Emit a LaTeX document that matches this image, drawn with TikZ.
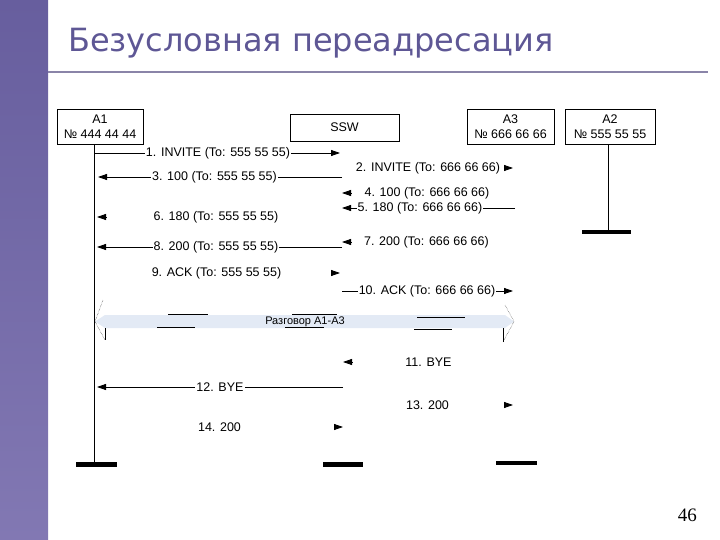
\documentclass[tikz,border=0pt]{standalone}
\usepackage{fontspec}
\setmainfont{Liberation Sans}
\newfontfamily\titlefont{DejaVu Sans}
\newfontfamily\numfont{Liberation Serif}
\usetikzlibrary{arrows.meta}

\definecolor{sidebar}{HTML}{675E9E}
\definecolor{sidebarlow}{HTML}{8278B3}
\definecolor{titlecol}{HTML}{5E5795}
\definecolor{rulecol}{HTML}{8A84A8}
\definecolor{talkband}{HTML}{E3EAF5}

\tikzset{
  party/.style={draw, line width=0.8pt, align=center, inner sep=1pt,
    font=\fontsize{12.5}{15}\selectfont},
  msg/.style={inner sep=1pt, font=\fontsize{12.5}{14}\selectfont},
  msgline/.style={line width=0.8pt, -{Triangle[length=9pt,width=6pt]}},
  endbar/.style={line width=4.5pt},
}

\begin{document}
\begin{tikzpicture}[x=1pt, y=-1pt]
    \useasboundingbox (0,0) rectangle (720,540);

    % Slide frame
    \shade[top color=sidebar, bottom color=sidebarlow] (0,0) rectangle (48,540);
    \node[anchor=base west, inner sep=0, text=titlecol,
          font=\titlefont\fontsize{32}{36}\selectfont] (title) at (68,52) {Безусловная переадресация};
    \draw[rulecol, line width=2pt] (48,72) -- (708,72);
    \node[anchor=base east, inner sep=0, font=\numfont\fontsize{19}{20}\selectfont] (pagenum) at (697,521) {46};

    % Parties
    \node[party, minimum width=86pt, minimum height=35pt] (a1) at (100,126.5) {A1\\№ 444 44 44};
    \node[party, minimum width=109pt, minimum height=27pt] (ssw) at (344.5,127.5) {SSW};
    \node[party, minimum width=87pt, minimum height=35pt] (a3) at (510.5,126.5) {A3\\№ 666 66 66};
    \node[party, minimum width=90pt, minimum height=35pt] (a2) at (610,126.5) {A2\\№ 555 55 55};

    % Lifelines and their ends
    \coordinate (a1foot) at (94,464.5);
    \coordinate (a2foot) at (608,232);
    \draw[line width=0.8pt] (a1.south -| a1foot) -- (a1foot);
    \draw[line width=0.8pt] (a2.south -| a2foot) -- (a2foot);
    \draw[endbar] (76,464.5) -- (117,464.5);
    \draw[endbar] (323,464.5) -- (363,464.5);
    \draw[endbar] (496,463) -- (537,463);
    \draw[endbar] (582,232) -- (631,232);

    % Messages drawn with a line
    \foreach \xs/\xe/\y/\xl/\txt in {
        95/340/153/218/{1. INVITE (To: 555 55 55)},
        342/98/177/214.5/{3. 100 (To: 555 55 55)},
        515/342/208/420/{5. 180 (To: 666 66 66)},
        342/97/247/216/{8. 200 (To: 555 55 55)},
        342/513/291/427/{10. ACK (To: 666 66 66)},
        343/97/387/220/{12. BYE}} {
        \draw[msgline] (\xs,\y) -- (\xe,\y);
        \node[msg, fill=white] at (\xl,\y) {\txt};
    }

    % Messages with only the arrow tip
    \foreach \xt/\d/\y/\xl/\txt in {
        513/-9/168/428/{2. INVITE (To: 666 66 66)},
        342/9/193/427/{4. 100 (To: 666 66 66)},
        97/9/217/216/{6. 180 (To: 555 55 55)},
        342/9/242/426.5/{7. 200 (To: 666 66 66)},
        340/-9/273/216.5/{9. ACK (To: 555 55 55)},
        343/9/362/428.5/{11. BYE},
        513/-9/405/427.5/{13. 200},
        343/-9/427/219.5/{14. 200}} {
        \draw[msgline] (\xt+\d,\y) -- (\xt,\y);
        \node[msg] at (\xl,\y) {\txt};
    }

    % Conversation A1-A3
    \fill[talkband] (95,321.5) -- (105,315) -- (505,315) -- (514,321.5) -- (505,328) -- (105,328) -- cycle;
    \draw[densely dotted] (103,300) -- (95,321.5) -- (105,340);
    \draw[densely dotted] (505,305) -- (514,321.5) -- (503,342);
    \draw (105,328) -- (105,340);
    \draw (503,328) -- (503,342);
    \node[inner sep=0, font=\fontsize{11}{12}\selectfont] (talk) at (305,322) {Разговор А1-А3};
    \foreach \xa/\xb/\y in {168/208/314, 157/195/327, 292/337/314, 285/324/327, 417/465/317, 414/452/329}
        \draw[line width=0.8pt] (\xa,\y) -- (\xb,\y);
\end{tikzpicture}
\end{document}
